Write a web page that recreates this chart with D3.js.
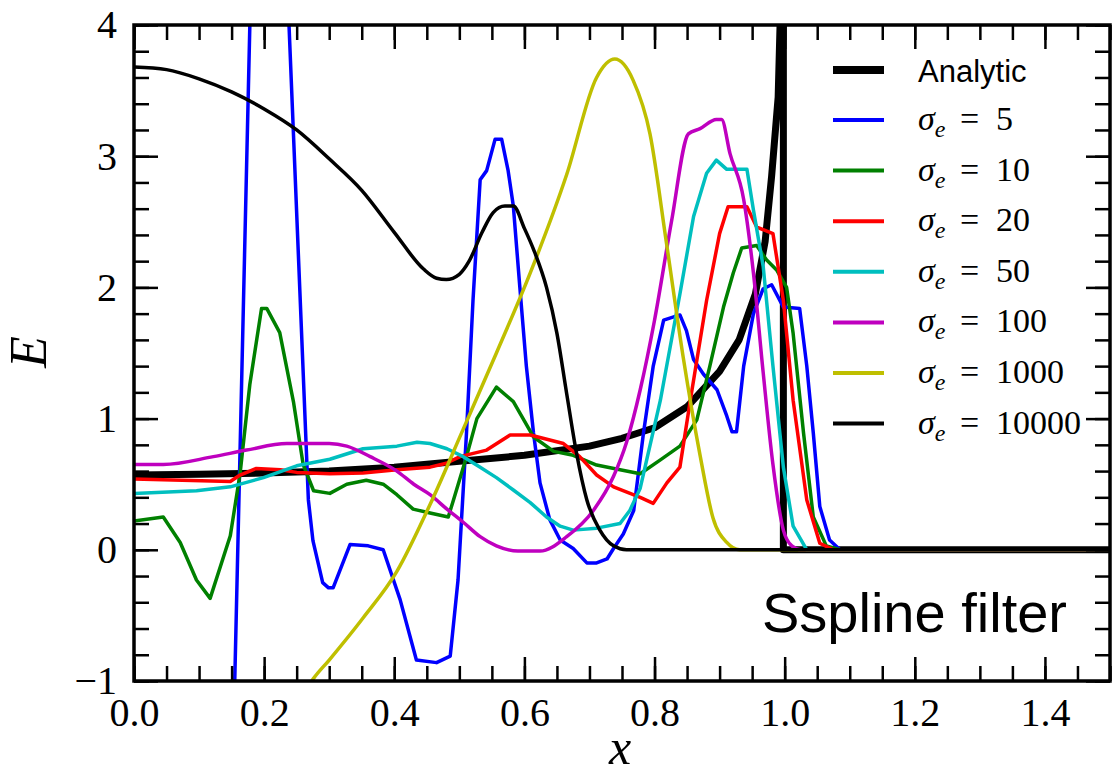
<!DOCTYPE html>
<html><head><meta charset="utf-8">
<script src="https://cdn.jsdelivr.net/npm/d3@7"></script>
<style>html,body{margin:0;padding:0;background:#fff;}</style>
</head><body>
<svg id="chart" width="1112" height="776"></svg>
<script>
// ---- data ----
const xTicks = [0.0, 0.2, 0.4, 0.6, 0.8, 1.0, 1.2, 1.4];
const yTicks = [-1, 0, 1, 2, 3, 4];
const legendLabels = ["Analytic", "5", "10", "20", "50", "100", "1000", "10000"];
const colors = ["#000000", "#0000ff", "#008000", "#ff0000", "#00bfbf", "#bf00bf", "#bfbf00", "#000000"];

const analytic = [[0,0.57],[0.1,0.575],[0.2,0.585],[0.3,0.60],[0.4,0.63],[0.5,0.675],[0.6,0.72],[0.7,0.79],[0.75,0.85],[0.8,0.93],[0.85,1.09],[0.9,1.36],[0.93,1.6],[0.955,1.95],[0.97,2.35],[0.98,2.85],[0.99,3.45],[0.995,4.4],[0.998,4.4],[0.998,0],[1.5,0]];
const s5 = [[0.14,-4.2],[0.185,5.5],[0.23,5.0],[0.268,0.38],[0.275,0.07],[0.29,-0.25],[0.299,-0.29],[0.306,-0.29],[0.332,0.04],[0.36,0.03],[0.383,0.0],[0.409,-0.38],[0.434,-0.84],[0.465,-0.86],[0.486,-0.81],[0.498,-0.23],[0.511,0.89],[0.521,1.9],[0.532,2.82],[0.542,2.89],[0.555,3.13],[0.565,3.13],[0.575,2.89],[0.583,2.62],[0.593,2.0],[0.603,1.4],[0.614,0.89],[0.624,0.51],[0.639,0.23],[0.655,0.075],[0.675,0.01],[0.696,-0.1],[0.711,-0.1],[0.727,-0.07],[0.737,0.01],[0.752,0.12],[0.768,0.30],[0.783,0.89],[0.798,1.40],[0.814,1.75],[0.839,1.79],[0.849,1.67],[0.86,1.45],[0.875,1.34],[0.896,1.22],[0.911,1.02],[0.919,0.90],[0.926,0.90],[0.937,1.40],[0.952,1.80],[0.967,1.99],[0.98,2.02],[0.998,1.85],[1.023,1.84],[1.034,1.40],[1.044,0.89],[1.054,0.33],[1.069,0.075],[1.085,0.0],[1.5,0.0]];
const s10 = [[0,0.22],[0.045,0.25],[0.071,0.056],[0.096,-0.23],[0.117,-0.37],[0.148,0.107],[0.163,0.58],[0.178,1.26],[0.196,1.84],[0.204,1.84],[0.224,1.655],[0.245,1.13],[0.26,0.65],[0.276,0.45],[0.301,0.43],[0.327,0.5],[0.357,0.53],[0.383,0.5],[0.404,0.42],[0.429,0.31],[0.455,0.28],[0.483,0.25],[0.491,0.38],[0.511,0.71],[0.527,1.0],[0.557,1.24],[0.583,1.13],[0.614,0.86],[0.645,0.75],[0.675,0.72],[0.711,0.646],[0.747,0.61],[0.778,0.58],[0.809,0.685],[0.839,0.79],[0.865,0.99],[0.885,1.40],[0.906,1.85],[0.921,2.11],[0.934,2.30],[0.957,2.32],[0.972,2.21],[0.988,2.13],[1.003,2.0],[1.013,1.65],[1.029,0.89],[1.044,0.25],[1.064,0.03],[1.085,0.0],[1.5,0]];
const s20 = [[0,0.54],[0.148,0.52],[0.163,0.57],[0.188,0.62],[0.225,0.61],[0.25,0.59],[0.301,0.58],[0.352,0.585],[0.404,0.61],[0.455,0.63],[0.48,0.66],[0.501,0.71],[0.542,0.76],[0.578,0.875],[0.609,0.875],[0.66,0.81],[0.685,0.71],[0.711,0.57],[0.737,0.48],[0.778,0.40],[0.798,0.354],[0.819,0.51],[0.839,0.63],[0.855,1.14],[0.88,1.9],[0.9,2.41],[0.913,2.615],[0.942,2.615],[0.957,2.46],[0.982,2.41],[0.998,1.9],[1.013,1.14],[1.034,0.38],[1.054,0.05],[1.075,0.0],[1.5,0]];
const s50 = [[0,0.43],[0.096,0.45],[0.148,0.48],[0.199,0.55],[0.25,0.64],[0.301,0.69],[0.352,0.77],[0.404,0.79],[0.435,0.82],[0.455,0.81],[0.481,0.77],[0.506,0.71],[0.532,0.63],[0.557,0.55],[0.583,0.456],[0.609,0.36],[0.634,0.25],[0.655,0.18],[0.675,0.15],[0.711,0.165],[0.747,0.2],[0.762,0.3],[0.778,0.47],[0.809,1.14],[0.839,1.95],[0.86,2.54],[0.88,2.87],[0.895,2.97],[0.911,2.9],[0.942,2.9],[0.952,2.59],[0.967,2.16],[0.982,1.4],[0.998,0.63],[1.013,0.18],[1.034,0.0],[1.5,0]];
const s100 = [[0,0.65],[0.045,0.65],[0.122,0.71],[0.173,0.76],[0.235,0.81],[0.3,0.81],[0.327,0.79],[0.363,0.71],[0.404,0.6],[0.43,0.5],[0.455,0.42],[0.481,0.31],[0.506,0.21],[0.532,0.1],[0.557,0.03],[0.59,-0.01],[0.624,-0.01],[0.665,0.1],[0.706,0.30],[0.737,0.56],[0.757,0.82],[0.778,1.22],[0.80,1.75],[0.826,2.5],[0.852,3.17],[0.87,3.21],[0.895,3.28],[0.903,3.28],[0.916,3.02],[0.937,2.67],[0.952,2.11],[0.967,1.35],[0.982,0.65],[0.998,0.15],[1.011,0.03],[1.025,0.0],[1.5,0]];
const s1000 = [[0.255,-1.15],[0.276,-0.98],[0.3,-0.84],[0.352,-0.52],[0.404,-0.165],[0.455,0.345],[0.506,0.92],[0.557,1.5],[0.609,2.11],[0.665,2.86],[0.711,3.6],[0.739,3.74],[0.767,3.58],[0.793,3.17],[0.818,2.35],[0.844,1.47],[0.87,0.72],[0.89,0.24],[0.911,0.056],[0.931,0.0],[1.5,0.0]];
const s10000 = [[0,3.68],[0.05,3.66],[0.1,3.59],[0.15,3.49],[0.2,3.36],[0.25,3.2],[0.3,2.98],[0.35,2.74],[0.4,2.42],[0.445,2.14],[0.465,2.07],[0.48,2.06],[0.5,2.1],[0.515,2.2],[0.535,2.42],[0.552,2.57],[0.57,2.62],[0.583,2.62],[0.6,2.45],[0.614,2.29],[0.634,2.0],[0.65,1.65],[0.665,1.19],[0.68,0.74],[0.696,0.38],[0.716,0.15],[0.737,0.03],[0.757,0.0],[1.5,0.0]];

const seriesList = [
  {data: analytic, color: colors[0], width: 7, smooth: false},
  {data: s5, color: colors[1], width: 3.5, smooth: false},
  {data: s10, color: colors[2], width: 3.5, smooth: false},
  {data: s20, color: colors[3], width: 3.5, smooth: false},
  {data: s50, color: colors[4], width: 3.5, smooth: false},
  {data: s100, color: colors[5], width: 3.5, smooth: true},
  {data: s1000, color: colors[6], width: 3.5, smooth: true},
  {data: s10000, color: colors[7], width: 3.5, smooth: true}
];

// ---- layout ----
const L = 134, R = 1110, T = 25, B = 681;
const svg = d3.select("#chart");
const x = d3.scaleLinear().domain([0, 1.5]).range([L, R]);
const y = d3.scaleLinear().domain([-1, 4]).range([B, T]);

svg.append("defs").append("clipPath").attr("id", "clip")
  .append("rect").attr("x", L).attr("y", T).attr("width", R - L).attr("height", B - T);

const plot = svg.append("g").attr("clip-path", "url(#clip)");
seriesList.forEach(s => {
  const line = d3.line().x(d => x(d[0])).y(d => y(d[1]))
    .curve(s.smooth ? d3.curveMonotoneX : d3.curveLinear);
  plot.append("path").datum(s.data).attr("d", line)
    .attr("fill", "none").attr("stroke", s.color).attr("stroke-width", s.width)
    .attr("stroke-linejoin", "round").attr("stroke-linecap", "butt");
});

// ---- axes ----
const xMinor = d3.range(0, 1.5001, 0.05);
const yMinor = d3.range(-1, 4.0001, 0.2);
const serif = "'Liberation Serif', 'Times New Roman', serif";

function styleAxis(g) {
  g.select(".domain").remove();
  g.selectAll(".tick line").attr("stroke", "#000").attr("stroke-width", 2.5);
  g.selectAll("text").attr("font-family", serif).attr("font-size", 40).attr("fill", "#000");
}
// bottom
svg.append("g").attr("transform", `translate(0,${B})`)
  .call(d3.axisBottom(x).tickValues(xMinor).tickSize(-15).tickFormat("")).call(styleAxis);
svg.append("g").attr("transform", `translate(0,${B})`)
  .call(d3.axisBottom(x).tickValues(xTicks).tickSize(-24).tickPadding(17).tickFormat(d3.format(".1f"))).call(styleAxis);
// top
svg.append("g").attr("transform", `translate(0,${T})`)
  .call(d3.axisTop(x).tickValues(xMinor).tickSize(-15).tickFormat("")).call(styleAxis);
svg.append("g").attr("transform", `translate(0,${T})`)
  .call(d3.axisTop(x).tickValues(xTicks).tickSize(-24).tickFormat("")).call(styleAxis);
// left
svg.append("g").attr("transform", `translate(${L},0)`)
  .call(d3.axisLeft(y).tickValues(yMinor).tickSize(-15).tickFormat("")).call(styleAxis);
svg.append("g").attr("transform", `translate(${L},0)`)
  .call(d3.axisLeft(y).tickValues(yTicks).tickSize(-24).tickPadding(17).tickFormat(d => d < 0 ? "\u2212" + Math.abs(d) : d)).call(styleAxis);
// right
svg.append("g").attr("transform", `translate(${R},0)`)
  .call(d3.axisRight(y).tickValues(yMinor).tickSize(-15).tickFormat("")).call(styleAxis);
svg.append("g").attr("transform", `translate(${R},0)`)
  .call(d3.axisRight(y).tickValues(yTicks).tickSize(-24).tickFormat("")).call(styleAxis);

// frame
svg.append("rect").attr("x", L).attr("y", T).attr("width", R - L).attr("height", B - T)
  .attr("fill", "none").attr("stroke", "#000").attr("stroke-width", 3.5);

// axis labels
svg.append("text").attr("x", 620).attr("y", 764).attr("text-anchor", "middle")
  .attr("font-family", serif).attr("font-style", "italic").attr("font-size", 50).text("x");
svg.append("text").attr("transform", "translate(46,352) rotate(-90)").attr("text-anchor", "middle")
  .attr("font-family", serif).attr("font-style", "italic").attr("font-size", 52).text("E");

// legend
const leg = svg.append("g");
legendLabels.forEach((lab, i) => {
  const yy = i === 0 ? 70 : 120 + (i - 1) * 50.6;
  leg.append("line").attr("x1", 833).attr("x2", 884).attr("y1", yy).attr("y2", yy)
    .attr("stroke", colors[i]).attr("stroke-width", i === 0 ? 8 : 4);
  if (i === 0) {
    leg.append("text").attr("x", 918).attr("y", yy + 12)
      .attr("font-family", "'Liberation Sans', Arial, sans-serif").attr("font-size", 31).text(lab);
  } else {
    const t = leg.append("text").attr("x", 918).attr("y", yy + 10)
      .attr("font-family", serif).attr("font-size", 34);
    t.append("tspan").attr("font-style", "italic").text("\u03C3");
    t.append("tspan").attr("font-style", "italic").attr("font-size", 24).attr("dy", 7).text("e");
    t.append("tspan").attr("dy", -7).attr("x", 960).text("=");
    t.append("tspan").attr("x", 996).text(lab);
  }
});

// annotation
svg.append("text").attr("x", 1067).attr("y", 632).attr("text-anchor", "end")
  .attr("font-family", "'Liberation Sans', Arial, sans-serif").attr("font-size", 56).text("Sspline filter");
</script>
</body></html>
